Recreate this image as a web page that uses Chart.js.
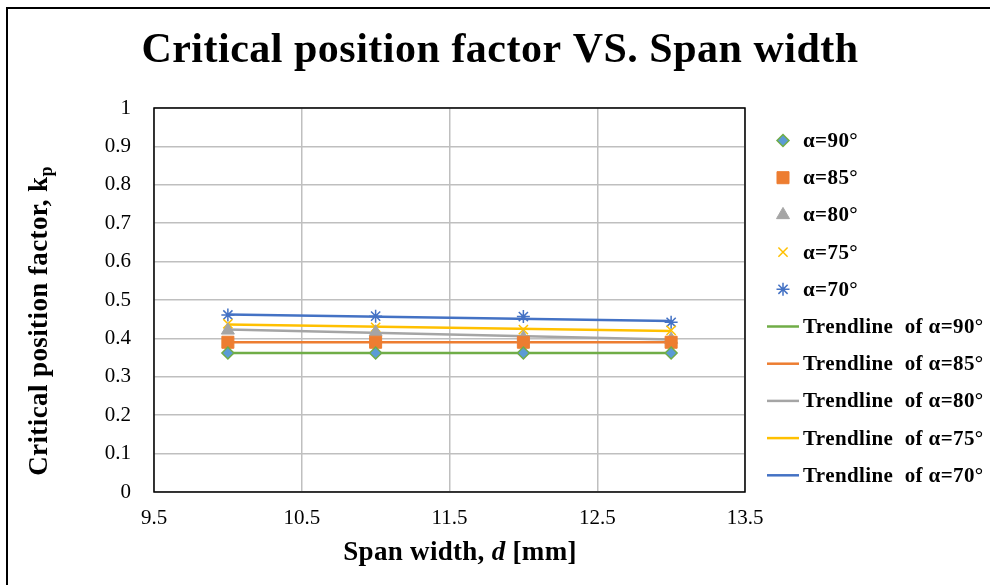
<!DOCTYPE html>
<html>
<head>
<meta charset="utf-8">
<script src="https://cdn.jsdelivr.net/npm/chart.js@4/dist/chart.umd.min.js"></script>
<style>
  html, body { margin: 0; padding: 0; background: #fff; }
  #wrap { width: 990px; height: 585px; }
</style>
</head>
<body>
<div id="wrap"><canvas id="kpChart" width="990" height="585"></canvas></div>
<script>
// span widths d [mm]
const spanWidths = [10, 11, 12, 13];
const trendX = [10, 13];

// critical position factor kp
const kp90 = [0.362, 0.362, 0.362, 0.362];
const kp85 = [0.390, 0.390, 0.390, 0.390];
const kp80 = [0.421, 0.416, 0.401, 0.397];
const kp75 = [0.438, 0.429, 0.423, 0.421];
const kp70 = [0.461, 0.458, 0.457, 0.442];

// trendline end values (at d = 10 and d = 13)
const trend90 = [0.362, 0.362];
const trend85 = [0.390, 0.390];
const trend80 = [0.423, 0.397];
const trend75 = [0.436, 0.419];
const trend70 = [0.462, 0.445];

const xTickLabels = ["9.5", "10.5", "11.5", "12.5", "13.5"];
const yTickLabels = ["0", "0.1", "0.2", "0.3", "0.4", "0.5", "0.6", "0.7", "0.8", "0.9", "1"];
const seriesNames = ["α=90°", "α=85°", "α=80°", "α=75°", "α=70°"];

const SERIF = '"Liberation Serif", "Times New Roman", serif';
const toPts = (xs, ys) => xs.map((x, i) => ({x: x, y: ys[i]}));

const markers = [
  {style: "rectRot",  r: 6,   fill: "#5b9bd5", stroke: "#70ad47", bw: 1.5},
  {style: "rect",     r: 8.5, fill: "#ed7d31", stroke: "#ed7d31", bw: 1},
  {style: "triangle", r: 7.5, fill: "#a5a5a5", stroke: "#a5a5a5", bw: 1},
  {style: "crossRot", r: 6.5, fill: "#ffc000", stroke: "#ffc000", bw: 1.5},
  {style: "star",     r: 6.5, fill: "#4472c4", stroke: "#4472c4", bw: 1.5}
];
const trendColors = ["#70ad47", "#ed7d31", "#a5a5a5", "#ffc000", "#4472c4"];
const pointSets = [kp90, kp85, kp80, kp75, kp70];
const trendSets = [trend90, trend85, trend80, trend75, trend70];

const datasets = [];
trendSets.forEach((t, i) => {
  datasets.push({
    label: "Trendline of " + seriesNames[i],
    data: toPts(trendX, t),
    showLine: true,
    borderColor: trendColors[i],
    borderWidth: 2.5,
    pointRadius: 0,
    order: 2
  });
});
pointSets.forEach((p, i) => {
  const m = markers[i];
  datasets.push({
    label: seriesNames[i],
    data: toPts(spanWidths, p),
    showLine: false,
    pointStyle: m.style,
    pointRadius: m.r,
    backgroundColor: m.fill,
    borderColor: m.stroke,
    pointBorderWidth: m.bw,
    order: 1
  });
});

// frame, titles and legend
const decor = {
  id: "decor",
  afterDraw(chart) {
    const ctx = chart.ctx;
    const a = chart.chartArea;
    ctx.save();
    // outer frame
    ctx.strokeStyle = "#000";
    ctx.lineWidth = 2;
    ctx.strokeRect(7, 8, 1000, 600);
    // plot border
    ctx.lineWidth = 1.5;
    ctx.strokeRect(a.left, a.top, a.right - a.left, a.bottom - a.top);

    ctx.fillStyle = "#000";
    ctx.textBaseline = "middle";
    // chart title
    ctx.textAlign = "center";
    ctx.font = "bold 42px " + SERIF;
    ctx.letterSpacing = "0.5px";
    ctx.fillText("Critical position factor VS. Span width", 500, 51);

    // x axis title with italic d
    ctx.letterSpacing = "0.3px";
    ctx.textAlign = "left";
    const xParts = [["bold 27px ", "Span width, "], ["italic bold 27px ", "d"], ["bold 27px ", " [mm]"]];
    let w = 0;
    xParts.forEach(p => { ctx.font = p[0] + SERIF; w += ctx.measureText(p[1]).width; });
    let x = 460 - w / 2;
    xParts.forEach(p => { ctx.font = p[0] + SERIF; ctx.fillText(p[1], x, 553); x += ctx.measureText(p[1]).width; });

    // y axis title with subscript p
    ctx.save();
    ctx.translate(40, 321);
    ctx.rotate(-Math.PI / 2);
    ctx.font = "bold 27px " + SERIF;
    ctx.letterSpacing = "0.4px";
    const main = "Critical position factor, k";
    const mw = ctx.measureText(main).width;
    ctx.font = "bold 18px " + SERIF;
    const sw = ctx.measureText("p").width;
    const sx = -(mw + sw) / 2;
    ctx.font = "bold 27px " + SERIF;
    ctx.fillText(main, sx, 0);
    ctx.font = "bold 18px " + SERIF;
    ctx.fillText("p", sx + mw, 7);
    ctx.restore();

    // legend
    ctx.font = "bold 21px " + SERIF;
    ctx.letterSpacing = "0.4px";
    const lx = 783, tx = 803, y0 = 140.5, dy = 37.2;
    const labels = [];
    seriesNames.forEach((n, i) => labels.push({text: n, marker: markers[i]}));
    seriesNames.forEach((n, i) => labels.push({text: "Trendline  of " + n, line: trendColors[i]}));
    labels.forEach((it, i) => {
      const y = y0 + i * dy;
      if (it.marker) {
        const m = it.marker;
        ctx.fillStyle = m.fill;
        ctx.strokeStyle = m.stroke;
        ctx.lineWidth = m.bw;
        Chart.helpers.drawPoint(ctx, {pointStyle: m.style, radius: m.r, rotation: 0, borderWidth: m.bw}, lx, y);
      } else {
        ctx.strokeStyle = it.line;
        ctx.lineWidth = 2.5;
        ctx.beginPath();
        ctx.moveTo(767, y);
        ctx.lineTo(799, y);
        ctx.stroke();
      }
      ctx.fillStyle = "#000";
      ctx.fillText(it.text, tx, y + 1);
    });
    ctx.restore();
  }
};

new Chart(document.getElementById("kpChart"), {
  type: "scatter",
  data: { datasets: datasets },
  options: {
    responsive: false,
    animation: false,
    layout: { padding: { left: 0, right: 245, top: 108, bottom: 0 } },
    plugins: { legend: { display: false }, title: { display: false }, tooltip: { enabled: false } },
    scales: {
      x: {
        type: "linear",
        min: 9.5, max: 13.5,
        afterFit: s => { s.height = 93; },
        ticks: {
          stepSize: 1,
          padding: 14,
          color: "#000",
          font: { family: SERIF, size: 21 },
          callback: (v, i) => xTickLabels[i]
        },
        grid: { color: "#bfbfbf", lineWidth: 1.5, drawTicks: false },
        border: { display: false }
      },
      y: {
        type: "linear",
        min: 0, max: 1,
        afterFit: s => { s.width = 154; },
        ticks: {
          stepSize: 0.1,
          padding: 23,
          color: "#000",
          font: { family: SERIF, size: 21 },
          callback: (v, i) => yTickLabels[i]
        },
        grid: { color: "#bfbfbf", lineWidth: 1.5, drawTicks: false },
        border: { display: false }
      }
    }
  },
  plugins: [decor]
});
</script>
</body>
</html>
